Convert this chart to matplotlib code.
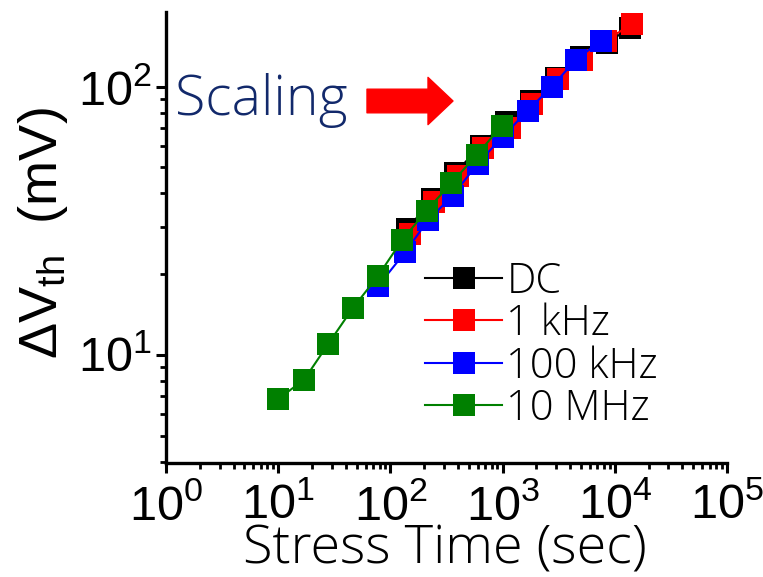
import numpy as np
import matplotlib
matplotlib.use("Agg")
from matplotlib import pyplot as plt
from matplotlib import font_manager
from matplotlib.ticker import LogLocator, LogFormatterSciNotation, NullFormatter

# data (stress time in s, delta Vth in mV)
dc_t = [142, 237, 380, 636, 1062, 1774, 2963, 4949, 8510, 13800]
dc_v = [29.5, 38.2, 47.8, 60.2, 74.0, 88.7, 108, 129, 146, 166]

khz1_t = [148, 247, 397, 663, 1155, 1815, 3098, 5075, 8313, 14190]
khz1_v = [28.3, 37.2, 46.5, 59.2, 70.3, 86.4, 107, 126, 148, 172]

khz100_t = [78, 136, 218, 358, 598, 1000, 1670, 2740, 4490, 7500]
khz100_v = [18.1, 24.2, 31.9, 39.2, 51.6, 65.1, 81.4, 100, 126, 148]

mhz10_t = [10, 17, 28, 46, 77, 128, 210, 350, 590, 980]
mhz10_v = [6.85, 8.07, 11.0, 14.9, 19.6, 26.9, 34.5, 43.8, 55.7, 71.5]

series = [
    ("DC", dc_t, dc_v, "black"),
    ("1 kHz", khz1_t, khz1_v, "#ff0000"),
    ("100 kHz", khz100_t, khz100_v, "#0000ff"),
    ("10 MHz", mhz10_t, mhz10_v, "#008000"),
]


def pick_font(names):                       # first installed family from a list
    have = set(f.name for f in font_manager.fontManager.ttflist)
    for n in names:
        if n in have:
            return n
    return "DejaVu Sans"


plain = pick_font(["Liberation Sans", "Arimo", "DejaVu Sans"])
light = pick_font(["Open Sans", "Noto Sans", "DejaVu Sans"])

plt.rcParams["mathtext.fontset"] = "custom"
plt.rcParams["mathtext.rm"] = plain
plt.rcParams["mathtext.it"] = plain
plt.rcParams["mathtext.bf"] = plain

fig = plt.figure(figsize=(7.63, 5.77), dpi=100)
ax = fig.add_axes([166 / 763, 1 - 463 / 577, (727 - 166) / 763, (463 - 12) / 577])

for name, t, v, c in series:
    ax.plot(t, v, color=c, linewidth=1.5, marker="s", markersize=16.5,
            markeredgewidth=0, label=name)

ax.set_xscale("log")
ax.set_yscale("log")
ax.set_xlim(1, 1e5)
ax.set_ylim(3.95, 190)

for s in ["top", "right"]:
    ax.spines[s].set_visible(False)
for s in ["left", "bottom"]:
    ax.spines[s].set_linewidth(2.4)

ax.xaxis.set_major_locator(LogLocator(base=10, numticks=10))
ax.yaxis.set_major_locator(LogLocator(base=10, numticks=10))
ax.xaxis.set_minor_locator(LogLocator(base=10, subs=np.arange(2, 10), numticks=20))
ax.yaxis.set_minor_locator(LogLocator(base=10, subs=np.arange(2, 10), numticks=20))
ax.xaxis.set_major_formatter(LogFormatterSciNotation())
ax.yaxis.set_major_formatter(LogFormatterSciNotation())
ax.xaxis.set_minor_formatter(NullFormatter())
ax.yaxis.set_minor_formatter(NullFormatter())
ax.tick_params(which="major", direction="out", length=7, width=2.2, labelsize=35)
ax.tick_params(axis="x", which="major", pad=8)
ax.tick_params(axis="y", which="major", pad=3)
ax.tick_params(which="minor", direction="out", length=4, width=2)
for lbl in ax.get_xticklabels() + ax.get_yticklabels():
    lbl.set_fontfamily(plain)

ax.set_xlabel("Stress Time (sec)", fontsize=39, family=light, fontweight="light")
ax.xaxis.set_label_coords(0.497, -0.133)
ax.set_ylabel(r"$\Delta$V$_{\rm th}$  (mV)", fontsize=39, family=plain)
ax.yaxis.set_label_coords(-0.172, 0.51)

leg = ax.legend(loc="upper left", bbox_to_anchor=(0.4617, 0.45), frameon=False,
                handlelength=1.85, handletextpad=0.1, labelspacing=0.0,
                borderpad=0, borderaxespad=0,
                prop={"family": light, "size": 30, "weight": "light"})

# annotation: "Scaling" with a red block arrow
fig.text(175 / 763, 1 - 101 / 577, "Scaling", fontsize=40, family=light,
         fontweight="light", color="#12296b", va="center", ha="left")
ax.annotate("", xy=(453, 577 - 101), xytext=(367, 577 - 101),
            xycoords="figure pixels", textcoords="figure pixels",
            arrowprops=dict(arrowstyle="simple,head_width=1.7,head_length=0.9,tail_width=0.85",
                            color="#ff0000", shrinkA=0, shrinkB=0, mutation_scale=20))

fig.savefig("out.png", dpi=100)
